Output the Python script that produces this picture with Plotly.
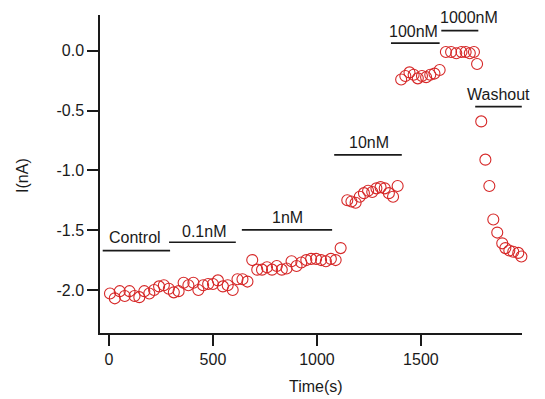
import plotly.graph_objects as go

# Time (s) and current (nA)
time_s = [5, 28, 52, 76, 99, 123, 146, 170, 194, 217, 241, 264, 288, 312, 335,
          359, 382, 406, 430, 453, 477, 500, 524, 548, 571, 595, 618, 642, 666,
          689, 713, 736, 760, 784, 807, 831, 854, 878, 902, 925, 949, 972, 996,
          1020, 1043, 1067, 1090, 1114,
          1146, 1166, 1186, 1206, 1226, 1246, 1266, 1286, 1306, 1326, 1346, 1366, 1388,
          1405, 1425, 1445, 1465, 1485, 1505, 1525, 1545, 1565, 1590,
          1620, 1645, 1670, 1695, 1715, 1735, 1755, 1770,
          1790, 1810, 1829, 1848, 1867, 1891, 1906, 1925, 1944, 1968, 1983]
current_nA = [-2.03, -2.07, -2.01, -2.05, -2.01, -2.05, -2.06, -2.01, -2.03, -2.00,
              -1.97, -1.96, -1.99, -2.02, -2.01, -1.94, -1.96, -1.94, -2.00, -1.96,
              -1.95, -1.95, -1.92, -1.97, -1.96, -2.00, -1.91, -1.91, -1.93, -1.75,
              -1.83, -1.83, -1.81, -1.83, -1.80, -1.83, -1.82, -1.76, -1.80, -1.77,
              -1.75, -1.74, -1.74, -1.75, -1.76, -1.74, -1.75, -1.65,
              -1.25, -1.26, -1.27, -1.22, -1.19, -1.17, -1.18, -1.15, -1.14, -1.15,
              -1.19, -1.22, -1.13,
              -0.24, -0.21, -0.18, -0.20, -0.23, -0.21, -0.22, -0.20, -0.19, -0.16,
              -0.01, -0.01, -0.02, -0.01, -0.01, -0.02, -0.01, -0.11,
              -0.59, -0.91, -1.13, -1.41, -1.52, -1.61, -1.65, -1.67, -1.68, -1.69, -1.72]

# Condition bars: label, start, end, bar level, label position
cond_labels = ["Control", "0.1nM", "1nM", "10nM", "100nM", "1000nM", "Washout"]
cond_start = [-30, 289, 639, 1083, 1356, 1598, 1761]
cond_end = [294, 610, 1073, 1408, 1590, 1776, 1985]
cond_level = [-1.671, -1.601, -1.498, -0.870, 0.064, 0.170, -0.466]
cond_text_x = [123, 457, 857, 1248, 1465, 1732, 1872]
cond_text_y = [-1.565, -1.512, -1.397, -0.770, 0.159, 0.276, -0.368]

x_ticks = [0, 500, 1000, 1500]
y_ticks = [0.0, -0.5, -1.0, -1.5, -2.0]
y_tick_text = ["0.0", "-0.5", "-1.0", "-1.5", "-2.0"]

FONT = "Liberation Sans, Arial, sans-serif"
INK = "#1a1a1a"
FS = 16

fig = go.Figure()
fig.add_trace(go.Scatter(
    x=time_s, y=current_nA, mode="markers",
    marker=dict(symbol="circle-open", size=11, color="rgb(214,40,40)",
                line=dict(width=1.1, color="rgb(214,40,40)")),
    showlegend=False, cliponaxis=False))

shapes = []
annotations = []
for lab, s, e, lv, tx, ty in zip(cond_labels, cond_start, cond_end, cond_level,
                                  cond_text_x, cond_text_y):
    shapes.append(dict(type="line", xref="x", yref="y", x0=s, x1=e, y0=lv, y1=lv,
                       line=dict(color=INK, width=1.7)))
    annotations.append(dict(x=tx, y=ty, xref="x", yref="y", text=lab,
                            xanchor="center", yanchor="middle",
                            showarrow=False, font=dict(family=FONT, size=FS, color=INK)))

annotations.append(dict(x=0.512, y=-0.167, xref="paper", yref="paper", text="Time(s)",
                        xanchor="center", yanchor="middle",
                        showarrow=False, font=dict(family=FONT, size=FS, color=INK)))
annotations.append(dict(x=-0.1825, y=0.497, xref="paper", yref="paper", text="I(nA)",
                        xanchor="center", yanchor="middle",
                        textangle=-90, showarrow=False,
                        font=dict(family=FONT, size=FS, color=INK)))

fig.update_layout(
    width=545, height=399,
    margin=dict(l=100, r=23, t=15, b=66),
    paper_bgcolor="white", plot_bgcolor="white",
    shapes=shapes, annotations=annotations,
    font=dict(family=FONT, size=FS, color=INK),
)
fig.update_xaxes(range=[-43, 1986], tickvals=x_ticks, ticks="outside", ticklen=11,
                 tickwidth=1.5, tickcolor=INK, showline=True, linecolor=INK, linewidth=1.5,
                 showgrid=False, zeroline=False, tickfont=dict(family=FONT, size=FS, color=INK))
fig.update_yaxes(range=[-2.36, 0.30], tickvals=y_ticks, ticktext=y_tick_text, ticks="outside",
                 ticklen=11, tickwidth=1.5, tickcolor=INK, showline=True, linecolor=INK,
                 linewidth=1.5, showgrid=False, zeroline=False,
                 tickfont=dict(family=FONT, size=FS, color=INK))

fig.write_html("out.html")
